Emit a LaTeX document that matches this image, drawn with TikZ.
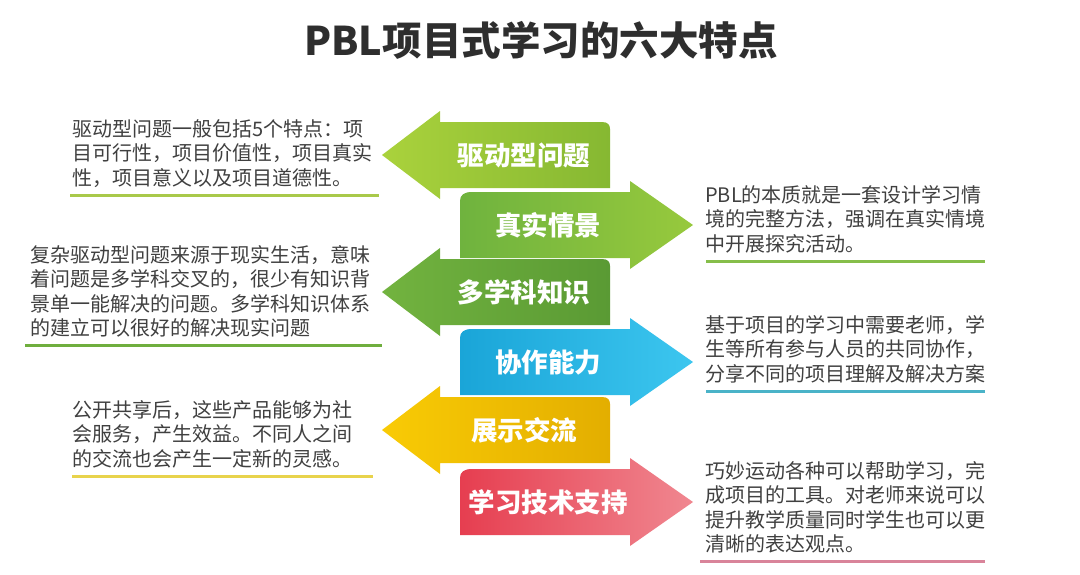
\documentclass[tikz,border=0pt]{standalone}
\usepackage{fontspec}
\setmainfont{Noto Sans CJK SC}
\usetikzlibrary{calc}

\definecolor{titlegray}{HTML}{2E2E2E}
\definecolor{textgray}{HTML}{404040}
\definecolor{drvA}{HTML}{AAD23C}
\definecolor{drvB}{HTML}{86B832}
\definecolor{realA}{HTML}{6FB33E}
\definecolor{realB}{HTML}{97C93D}
\definecolor{mulA}{HTML}{72B33F}
\definecolor{mulB}{HTML}{5A9A34}
\definecolor{coopA}{HTML}{1AA5D8}
\definecolor{coopB}{HTML}{3CC6EF}
\definecolor{shwA}{HTML}{F9CB05}
\definecolor{shwB}{HTML}{E3AE00}
\definecolor{techA}{HTML}{E63E50}
\definecolor{techB}{HTML}{F08790}
\definecolor{lineA}{HTML}{A9C94A}
\definecolor{lineB}{HTML}{86BE4A}
\definecolor{lineC}{HTML}{6FAE3E}
\definecolor{lineD}{HTML}{4AB3C8}
\definecolor{lineE}{HTML}{E8D34C}
\definecolor{lineF}{HTML}{D9849A}

\tikzset{
  lbl/.style={text=white, font=\bfseries\fontsize{26.5}{26.5}\selectfont},
  desc/.style={text=textgray, align=left, inner sep=0pt, anchor=north west,
    font=\fontsize{20}{24.5}\selectfont},
  uline/.style={line width=3pt, draw=#1}
}

\begin{document}
\begin{tikzpicture}[x=1pt, y=-1pt]
  \useasboundingbox[fill=white] (0,0) rectangle (1080,574);
  % Title
  \node[font=\bfseries\fontsize{39.5}{39.5}\selectfont, text=titlegray] (title) at (541,40) {PBL项目式学习的六大特点};
  % Left arrows
  \foreach \c/\ca/\cb/\nm/\txt in {155/drvA/drvB/drive/驱动型问题, 292/mulA/mulB/multi/多学科知识, 430/shwA/shwB/show/展示交流} {
    \shade[left color=\ca, right color=\cb] (382,\c) -- (440,\c-44) -- (440,\c-33) -- (602,\c-33)
      .. controls (608,\c-33) and (610,\c-30) .. (610,\c-26) -- (610,\c+33) -- (440,\c+33) -- (440,\c+44) -- cycle;
    \node[lbl] (\nm) at (524,\c) {\txt};
  }
  % Right arrows
  \foreach \c/\ca/\cb/\nm/\txt in {225/realA/realB/real/真实情景, 362/coopA/coopB/coop/协作能力, 502/techA/techB/tech/学习技术支持} {
    \shade[left color=\ca, right color=\cb] (460,\c+33) -- (460,\c-24) .. controls (460,\c-30) and (464,\c-33) .. (472,\c-33)
      -- (630,\c-33) -- (630,\c-44) -- (693,\c) -- (630,\c+44) -- (630,\c+33) -- cycle;
    \node[lbl] (\nm) at (548,\c) {\txt};
  }
  % Descriptions
  \node[desc] (t1) at (72,119) {驱动型问题一般包括5个特点：项\\目可行性，项目价值性，项目真实\\性，项目意义以及项目道德性。};
  \node[desc] (t3) at (30,245) {复杂驱动型问题来源于现实生活，意味\\着问题是多学科交叉的，很少有知识背\\景单一能解决的问题。多学科知识体系\\的建立可以很好的解决现实问题};
  \node[desc] (t5) at (72,400) {公开共享后，这些产品能够为社\\会服务，产生效益。不同人之间\\的交流也会产生一定新的灵感。};
  \node[desc] (t2) at (705,185) {PBL的本质就是一套设计学习情\\境的完整方法，强调在真实情境\\中开展探究活动。};
  \node[desc] (t4) at (705,315) {基于项目的学习中需要老师，学\\生等所有参与人员的共同协作，\\分享不同的项目理解及解决方案};
  \node[desc] (t6) at (705,461) {巧妙运动各种可以帮助学习，完\\成项目的工具。对老师来说可以\\提升教学质量同时学生也可以更\\清晰的表达观点。};
  % Underlines
  \draw[uline=lineA] ([xshift=-2pt,yshift=-8pt]t1.south west) -- ([xshift=7pt,yshift=-8pt]t1.south east);
  \draw[uline=lineC] ([xshift=-5pt,yshift=-8pt]t3.south west) -- ([xshift=12pt,yshift=-8pt]t3.south east);
  \draw[uline=lineE] ([xshift=0pt,yshift=-8pt]t5.south west) -- ([xshift=21pt,yshift=-8pt]t5.south east);
  \draw[uline=lineB] ([xshift=1pt,yshift=-8pt]t2.south west) -- ([xshift=0pt,yshift=-8pt]t2.south east);
  \draw[uline=lineD] ([xshift=1pt,yshift=-8pt]t4.south west) -- ([xshift=0pt,yshift=-8pt]t4.south east);
  \draw[uline=lineF] ([xshift=-5pt,yshift=-8pt]t6.south west) -- ([xshift=0pt,yshift=-8pt]t6.south east);
\end{tikzpicture}
\end{document}
